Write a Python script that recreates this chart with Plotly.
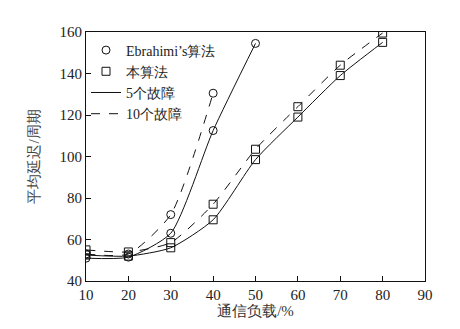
import plotly.graph_objects as go

# 通信负载 (%) and 平均延迟 (周期)
load_ebr = [10, 20, 30, 40, 50]
ebr_5 = [51, 51.5, 63, 112.5, 154.5]
load_ebr10 = [10, 20, 30, 40]
ebr_10 = [53, 53, 72, 130.5]

load_ours = [10, 20, 30, 40, 50, 60, 70, 80]
ours_5 = [52.5, 52, 56, 69.5, 98.5, 119, 139, 155]
ours_10 = [55, 54, 58.5, 77, 103.5, 124, 144, 159.5]

x_ticks = [10, 20, 30, 40, 50, 60, 70, 80, 90]
y_ticks = [40, 60, 80, 100, 120, 140, 160]

FONT = "'Times New Roman', 'Liberation Serif', 'DejaVu Serif', serif"
INK = "#111111"

fig = go.Figure()


def curve(x, y, dash, symbol):
    fig.add_trace(go.Scatter(
        x=x, y=y, mode="lines+markers", showlegend=False,
        line=dict(color=INK, width=1, dash=dash, shape="spline", smoothing=0.6),
        marker=dict(symbol=symbol, size=8, color=INK,
                    line=dict(color=INK, width=1)),
    ))


curve(load_ebr, ebr_5, "solid", "circle-open")
curve(load_ebr10, ebr_10, "dash", "circle-open")
curve(load_ours, ours_5, "solid", "square-open")
curve(load_ours, ours_10, "dash", "square-open")

# legend entries: marker shapes for algorithms, line styles for fault counts
fig.add_trace(go.Scatter(x=[None], y=[None], mode="markers", name="Ebrahimi’s算法",
                         marker=dict(symbol="circle-open", size=8, color=INK,
                                     line=dict(color=INK, width=1))))
fig.add_trace(go.Scatter(x=[None], y=[None], mode="markers", name="本算法",
                         marker=dict(symbol="square-open", size=8, color=INK,
                                     line=dict(color=INK, width=1))))
fig.add_trace(go.Scatter(x=[None], y=[None], mode="lines", name="5个故障",
                         line=dict(color=INK, width=1)))
fig.add_trace(go.Scatter(x=[None], y=[None], mode="lines", name="10个故障",
                         line=dict(color=INK, width=1, dash="dash")))

fig.update_layout(
    width=460, height=329,
    margin=dict(l=86, r=35, t=32, b=48),
    paper_bgcolor="white", plot_bgcolor="white",
    font=dict(family=FONT, size=15, color="#222222"),
    legend=dict(x=0.0, y=0.99, xanchor="left", yanchor="top",
                bgcolor="rgba(0,0,0,0)", borderwidth=0,
                font=dict(family=FONT, size=14), tracegroupgap=0),
    xaxis=dict(range=[10, 90], tickvals=x_ticks, ticks="inside", ticklen=5,
               tickcolor=INK, showline=True, linecolor=INK, linewidth=1,
               mirror=True, showgrid=False, zeroline=False,
               tickfont=dict(family=FONT, size=15, color="#222222"),
               title=dict(text="通信负载/%", standoff=0,
                          font=dict(family=FONT, size=15, color="#333333"))),
    yaxis=dict(range=[40, 160], tickvals=y_ticks, ticks="inside", ticklen=5,
               tickcolor=INK, showline=True, linecolor=INK, linewidth=1,
               mirror=True, showgrid=False, zeroline=False,
               tickfont=dict(family=FONT, size=15, color="#222222"),
               title=dict(text="平均延迟/周期", standoff=16,
                          font=dict(family=FONT, size=15, color="#444444"))),
)

fig.write_html("out.html")
